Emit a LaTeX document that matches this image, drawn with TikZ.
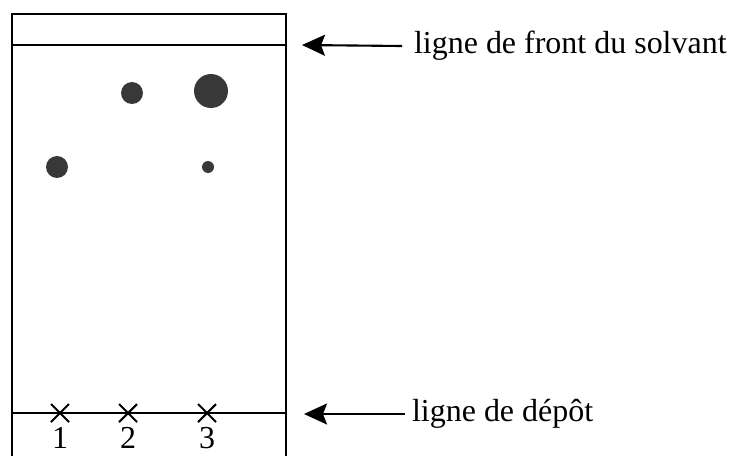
\documentclass[tikz,border=0pt]{standalone}
\usepackage{fontspec}
\setmainfont{Liberation Serif}
\usetikzlibrary{arrows.meta}
\def\tache(#1,#2,#3,#4){
  \node[shape=circle, fill=black!78, minimum size=#4, inner sep=0pt] (#1) at (#2,#3) {};
}
\def\depot(#1,#2,#3){
  \coordinate (#1) at (#2,413);
  \draw [line width=1.2pt] (#2-9,404) -- (#2+9,422);
  \draw [line width=1.2pt] (#2-9,422) -- (#2+9,404);
  \node[inner sep=0pt] (num#1) at (#2,438) {#3};
}
\begin{document}
\begin{tikzpicture}[x=0.02cm, y=-0.02cm, line width=1.2pt, every node/.style={font=\fontsize{18.2}{22}\selectfont}]
\useasboundingbox (0,0) rectangle (729,456);
% plaque
\draw (12,456) -- (12,14) -- (286,14) -- (286,456);
\draw (12,45) -- (286,45);
\draw (12,413) -- (286,413);
% taches
\tache(t1,57,167,0.44cm)
\tache(t2,132,93,0.44cm)
\tache(t3,211,91,0.68cm)
\tache(t4,208,167,0.24cm)
% points de depot
\depot(d1,60,1)
\depot(d2,128,2)
\depot(d3,207,3)
% legendes
\coordinate (front_tip) at (302,45);
\node[anchor=west, inner sep=0.22cm] (front) at (402,46) {ligne de front du solvant};
\draw[-{Stealth[length=0.46cm, width=0.42cm, inset=0.08cm]}] (front.west) -- (front_tip);
\coordinate (depot_tip) at (304,414);
\node[anchor=west, inner sep=0.12cm] (depot) at (405,414) {ligne de dépôt};
\draw[-{Stealth[length=0.46cm, width=0.42cm, inset=0.08cm]}] (depot.west) -- (depot_tip);
\end{tikzpicture}
\end{document}
